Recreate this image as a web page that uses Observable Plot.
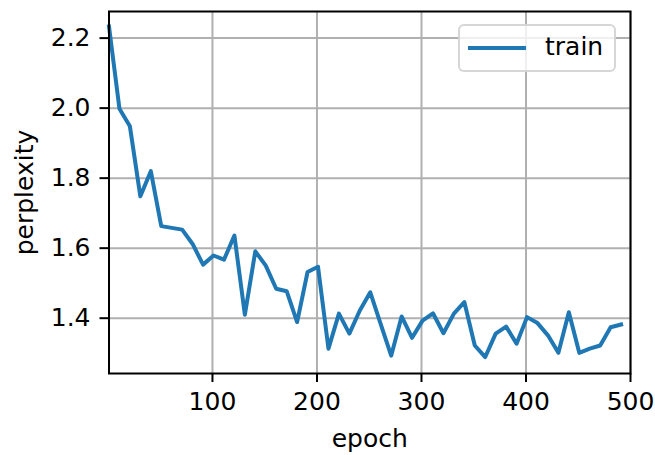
<!DOCTYPE html>
<html>
<head>
<meta charset="utf-8">
<script src="https://cdn.jsdelivr.net/npm/d3@7"></script>
<script src="https://cdn.jsdelivr.net/npm/@observablehq/plot@0.6"></script>
<style>
  html, body { margin: 0; padding: 0; background: #fff; }
  #wrap { position: relative; width: 655px; height: 455px; font-family: "DejaVu Sans", sans-serif; }
  #legend {
    position: absolute; left: 458px; top: 24px; width: 158px; height: 48px;
    border: 2px solid rgba(204,204,204,0.8); border-radius: 6px; background: rgba(255,255,255,0.8);
    box-sizing: border-box;
  }
  #legend .sw { position: absolute; left: 8px; top: 20px; width: 58px; height: 4px; background: #1f77b4; }
  #legend .lb { position: absolute; left: 85px; top: 6px; font-size: 25px; line-height: 30px; color: #000; }
</style>
</head>
<body>
<div id="wrap"></div>
<script>
const epochs = [1, 11, 21, 31, 41, 51, 61, 71, 81, 91, 101, 111, 121, 131, 141, 151, 161, 171, 181, 191,
  201, 211, 221, 231, 241, 251, 261, 271, 281, 291, 301, 311, 321, 331, 341, 351, 361, 371, 381, 391,
  401, 411, 421, 431, 441, 451, 461, 471, 481, 491];
const perplexity = [2.233, 1.998, 1.948, 1.748, 1.820, 1.663, 1.658, 1.653, 1.612, 1.553,
  1.579, 1.567, 1.636, 1.410, 1.591, 1.550, 1.484, 1.477, 1.389, 1.532,
  1.547, 1.313, 1.413, 1.356, 1.422, 1.474, 1.383, 1.293, 1.405, 1.344,
  1.393, 1.414, 1.357, 1.413, 1.446, 1.322, 1.289, 1.356, 1.376, 1.327,
  1.403, 1.386, 1.351, 1.301, 1.417, 1.301, 1.313, 1.322, 1.374, 1.382];
const xTicks = [100, 200, 300, 400, 500];
const yTicks = [1.4, 1.6, 1.8, 2.0, 2.2];
const seriesName = "train";

const data = epochs.map((e, i) => ({epoch: e, ppl: perplexity[i]}));

const chart = Plot.plot({
  width: 655,
  height: 455,
  marginLeft: 108.5,
  marginRight: 25,
  marginTop: 11,
  marginBottom: 82,
  style: {fontFamily: "DejaVu Sans, sans-serif", fontSize: "25px", color: "#000", background: "#fff"},
  x: {domain: [1, 500]},
  y: {domain: [1.242, 2.276]},
  marks: [
    Plot.gridX(xTicks, {stroke: "#b0b0b0", strokeOpacity: 1, strokeWidth: 2}),
    Plot.gridY(yTicks, {stroke: "#b0b0b0", strokeOpacity: 1, strokeWidth: 2}),
    Plot.line(data, {x: "epoch", y: "ppl", stroke: "#1f77b4", strokeWidth: 4, strokeLinejoin: "round", strokeLinecap: "square"}),
    Plot.axisX({ticks: xTicks, tickSize: 9, tickPadding: 10, strokeWidth: 2, fontSize: 25,
      label: "epoch", labelAnchor: "center", labelArrow: "none", labelOffset: 73}),
    Plot.axisY({ticks: yTicks, tickFormat: d3.format(".1f"), tickSize: 9, tickPadding: 9.5, strokeWidth: 2, fontSize: 25,
      label: "perplexity", labelAnchor: "center", labelArrow: "none", labelOffset: 94}),
    Plot.frame({stroke: "#000", strokeWidth: 2})
  ]
});
const wrap = document.getElementById("wrap");
wrap.appendChild(chart);
const leg = document.createElement("div");
leg.id = "legend";
leg.innerHTML = '<div class="sw"></div><div class="lb"></div>';
leg.querySelector(".lb").textContent = seriesName;
wrap.appendChild(leg);
</script>
</body>
</html>
